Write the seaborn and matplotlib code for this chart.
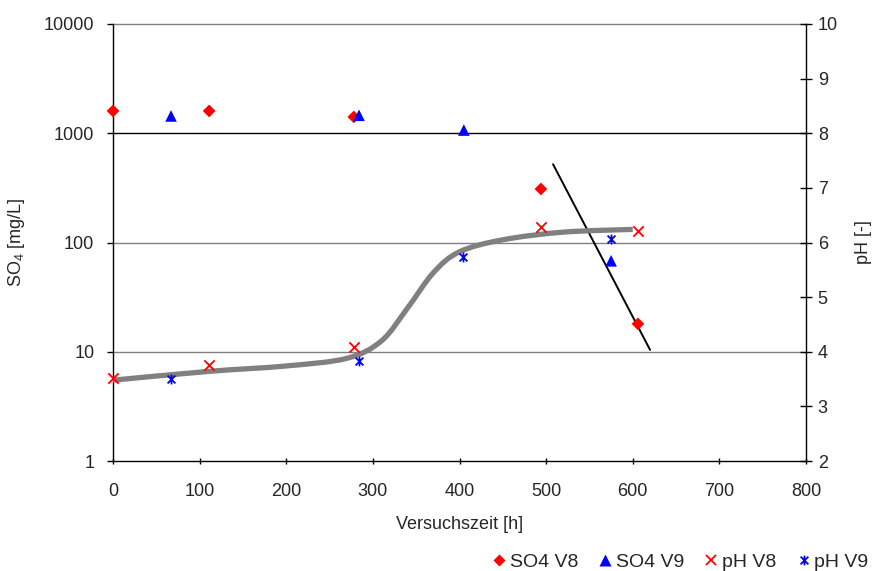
import numpy as np
import pandas as pd
import seaborn as sns
import matplotlib.pyplot as plt
from matplotlib.path import Path
from matplotlib.patches import PathPatch
from matplotlib.lines import Line2D

sns.set_theme(style="white")
plt.rcParams['font.family'] = ['Liberation Sans', 'DejaVu Sans']
plt.rcParams['mathtext.fontset'] = 'custom'
plt.rcParams['mathtext.rm'] = 'Liberation Sans'
plt.rcParams['mathtext.it'] = 'Liberation Sans'

# Sulfate concentrations [mg/L]
so4_v8_t = [0, 111, 278, 494, 606]
so4_v8 = [1600, 1600, 1410, 309, 18]
so4_v9_t = [67, 284, 405, 575]
so4_v9 = [1440, 1460, 1070, 68]

# pH values
ph_v8_t = [0, 111, 278, 494, 606]
ph_v8 = [3.52, 3.76, 4.09, 6.29, 6.21]
ph_v9_t = [67, 284, 404, 575]
ph_v9 = [3.50, 3.83, 5.74, 6.07]

# pH trend curve (control points of a smoothed line)
curve_t = [0, 110, 200, 270, 310, 340, 370, 400, 450, 520, 600]
curve_ph = [3.48, 3.64, 3.74, 3.88, 4.20, 4.80, 5.45, 5.83, 6.05, 6.19, 6.24]

# Sulfate decline trend line
trend_t = [508, 620]
trend_so4 = [520, 10.4]

x_ticks = [0, 100, 200, 300, 400, 500, 600, 700, 800]
so4_ticks = [1, 10, 100, 1000, 10000]
ph_ticks = [2, 3, 4, 5, 6, 7, 8, 9, 10]

legend_labels = ['SO4 V8', 'SO4 V9', 'pH V8', 'pH V9']

RED = '#ff0000'
BLUE = '#0000ff'
FS = 13


def smooth_path(xs, ys):
    """Cubic Bezier path through the points (Catmull-Rom style smoothing)."""
    p = np.column_stack([xs, ys]).astype(float)
    n = len(p)
    verts = [p[0]]
    codes = [Path.MOVETO]
    for i in range(n - 1):
        p0 = p[i - 1] if i > 0 else p[i]
        p1, p2 = p[i], p[i + 1]
        p3 = p[i + 2] if i + 2 < n else p[i + 1]
        c1 = p1 + (p2 - p0) / 6.0
        c2 = p2 - (p3 - p1) / 6.0
        verts += [c1, c2, p2]
        codes += [Path.CURVE4] * 3
    return Path(np.array(verts), codes)


fig = plt.figure(figsize=(8.72, 5.71), dpi=100)
ax = fig.add_axes([113 / 872, 110 / 571, 693 / 872, 437 / 571])
ax2 = ax.twinx()

# asterisk marker: vertical bar plus an X
ast = Path([(0, -1), (0, 1), (-0.8, -0.8), (0.8, 0.8), (-0.8, 0.8), (0.8, -0.8)],
           [Path.MOVETO, Path.LINETO, Path.MOVETO, Path.LINETO, Path.MOVETO, Path.LINETO])

# left axis: sulfate (log)
ax.set_yscale('log')
ax.set_xlim(0, 800)
ax.set_ylim(1, 10000)
for v in so4_ticks[1:]:
    ax.axhline(v, color='black' if v == 1000 else '#808080', lw=1.0, zorder=0.5,
               clip_on=False)

sns.lineplot(x=trend_t, y=trend_so4, ax=ax, color='black', lw=1.4, zorder=3)
sns.scatterplot(x=so4_v8_t, y=so4_v8, ax=ax, marker='D', s=42, color=RED,
                edgecolor='none', zorder=4, clip_on=False)
sns.scatterplot(x=so4_v9_t, y=so4_v9, ax=ax, marker='^', s=70, color=BLUE,
                edgecolor='none', zorder=4, clip_on=False)

ax.set_xticks(x_ticks)
ax.set_xticklabels([str(v) for v in x_ticks])
ax.set_yticks(so4_ticks)
ax.set_yticklabels([str(v) for v in so4_ticks])
ax.yaxis.set_minor_locator(plt.NullLocator())
ax.tick_params(axis='y', which='major', direction='out', length=4.5, width=1,
               color='black', labelsize=FS, pad=9, left=True)
ax.tick_params(axis='x', which='major', direction='inout', length=5, width=1,
               color='black', labelsize=FS, pad=13, bottom=True)
ax.set_xlabel('Versuchszeit [h]', fontsize=FS, labelpad=12)
ax.set_ylabel('SO$_4$ [mg/L]', fontsize=FS, labelpad=12)

# right axis: pH
ax2.set_ylim(2, 10)
ax2.add_patch(PathPatch(smooth_path(curve_t, curve_ph), facecolor='none',
                        edgecolor='#808080', lw=3.8, capstyle='butt',
                        joinstyle='round', zorder=2))
sns.scatterplot(x=ph_v8_t, y=ph_v8, ax=ax2, marker='x', s=55, color=RED,
                edgecolor=RED, linewidth=1.3, zorder=4, clip_on=False)
sns.scatterplot(x=ph_v9_t, y=ph_v9, ax=ax2, marker=ast, s=50, color=BLUE,
                edgecolor=BLUE, linewidth=1.3, zorder=4, clip_on=False)
ax2.set_yticks(ph_ticks)
ax2.set_yticklabels([str(v) for v in ph_ticks])
ax2.tick_params(axis='y', direction='inout', length=9, width=1, color='black',
                labelsize=FS, pad=4, right=True)
ax2.set_ylabel('pH [-]', fontsize=FS, labelpad=12)

for a in (ax, ax2):
    a.spines['top'].set_visible(False)
    for s in a.spines.values():
        s.set_color('black')
        s.set_linewidth(1.0)
ax.spines['right'].set_visible(False)
ax2.spines['left'].set_visible(False)
ax2.spines['bottom'].set_visible(False)

handles = [
    Line2D([], [], ls='none', marker='D', ms=6, color=RED, mec='none'),
    Line2D([], [], ls='none', marker='^', ms=8, color=BLUE, mec='none'),
    Line2D([], [], ls='none', marker='x', ms=7, color=RED, mew=1.3),
    Line2D([], [], ls='none', marker=ast, ms=7, color=BLUE, mew=1.3),
]
fig.legend(handles, legend_labels, loc='lower right', bbox_to_anchor=(1.016, -0.03),
           ncol=4, frameon=False, fontsize=14, handlelength=0.6,
           handletextpad=0.25, columnspacing=1.1)

fig.savefig('out.png', dpi=100)
